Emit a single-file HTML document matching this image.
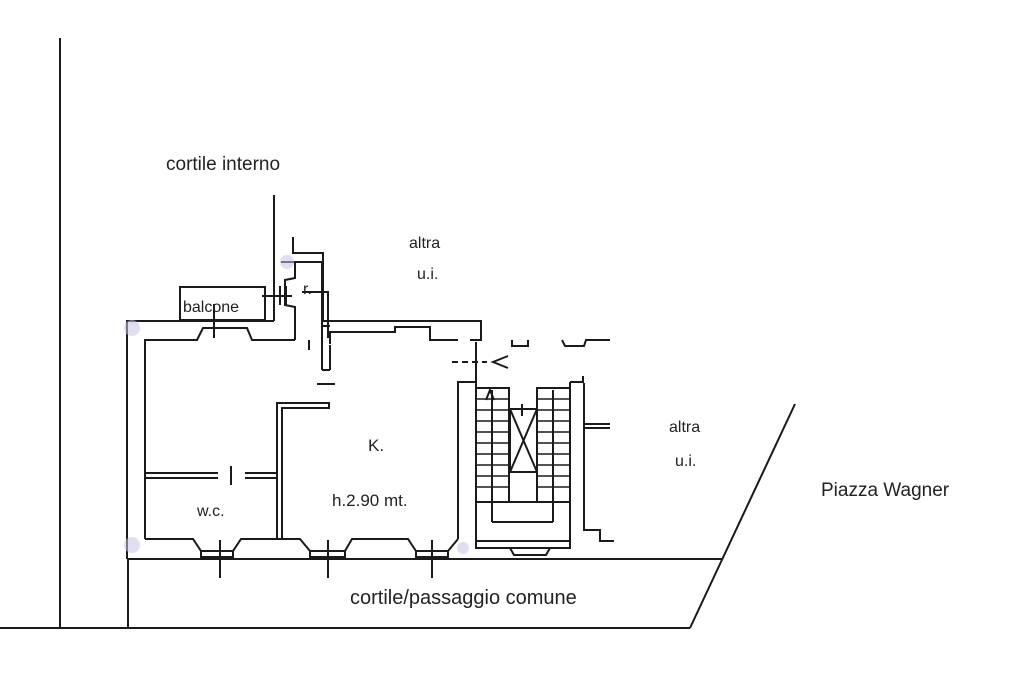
<!DOCTYPE html>
<html><head><style>
html,body{margin:0;padding:0;background:#fff;}
svg{display:block;}
text{font-family:"Liberation Sans",Arial,sans-serif;fill:#222;}
</style></head><body>
<svg width="1029" height="693" viewBox="0 0 1029 693" xmlns="http://www.w3.org/2000/svg">
<g stroke="#1a1a1a" stroke-width="2" fill="none">
<line x1="60" y1="38" x2="60" y2="628"/>
<line x1="0" y1="628" x2="690" y2="628"/>
<line x1="690" y1="628" x2="795" y2="404"/>
<line x1="128" y1="559" x2="722" y2="559"/>
<line x1="128" y1="559" x2="128" y2="628"/>
<line x1="274" y1="195" x2="274" y2="321"/>
<path d="M127,559 L127,321 L274,321"/>
<path d="M293,237 L293,253 L323,253 L323,321 L481,321 L481,340 L470,340"/>
<path d="M295,262 L322,262 L322,326 L330,326"/>
<path d="M281,262 L295,262 L295,278 L285,280 L285,305 L295,307 L295,340"/>
<path d="M302,292 L328,292 L328,338"/>
<path d="M145,539 L145,340 L197,340 L203,328 L247,328 L252,340 L295,340"/>
<path d="M330,339 L330,332 L395,332 L395,327 L430,327 L430,340 L458,340"/>
<path d="M330,339 L330,344"/>
<line x1="322" y1="300" x2="322" y2="370"/>
<line x1="330" y1="345" x2="330" y2="370"/>
<line x1="322" y1="370" x2="330" y2="370"/>
<line x1="317" y1="384" x2="335" y2="384"/>
<line x1="309" y1="340" x2="309" y2="350"/>
<rect x="180" y="287" width="85" height="33"/>
<line x1="214" y1="304" x2="214" y2="338"/>
<line x1="262" y1="296" x2="292" y2="296"/>
<line x1="286" y1="286" x2="286" y2="305"/>
<line x1="280" y1="286" x2="280" y2="305"/>
<path d="M145,473 L218,473 M245,473 L276,473"/>
<path d="M145,478 L218,478 M245,478 L277,478 L277,539"/>
<line x1="231" y1="466" x2="231" y2="485"/>
<path d="M282,539 L282,408 L329,408 L329,403 L277,403 L277,478"/>
<path d="M145,539 L193,539 L201,551 L233,551 L241,539 L300,539 L310,551 L345,551 L352,539 L408,539 L416,551 L448,551 L458,539"/>
<path d="M201,551 L201,557 L233,557 L233,551 M310,551 L310,557 L345,557 L345,551 M416,551 L416,557 L448,557 L448,551"/>
<line x1="220" y1="540" x2="220" y2="578"/>
<line x1="328" y1="540" x2="328" y2="578"/>
<line x1="432" y1="540" x2="432" y2="578"/>
<path d="M458,539 L458,382 L476,382 L476,548 L570,548 L570,382"/>
<path d="M476,342 L476,382"/>
<line x1="452" y1="362" x2="487" y2="362" stroke-dasharray="6,4"/>
<path d="M508,356 L493,362 L508,368"/>
<rect x="476" y="388" width="33" height="114"/>
<line x1="492" y1="390" x2="492" y2="522"/>
<rect x="537" y="388" width="33" height="114"/>
<line x1="553" y1="390" x2="553" y2="522"/>
<path d="M476,502 L476,541 L570,541 L570,502"/>
<path d="M492,522 L553,522"/>
<path d="M509,502 L537,502"/>
<g stroke-width="1.4">
<line x1="476" y1="399" x2="509" y2="399"/><line x1="476" y1="410" x2="509" y2="410"/><line x1="476" y1="421" x2="509" y2="421"/><line x1="476" y1="432" x2="509" y2="432"/><line x1="476" y1="443" x2="509" y2="443"/><line x1="476" y1="454" x2="509" y2="454"/><line x1="476" y1="465" x2="509" y2="465"/><line x1="476" y1="476" x2="509" y2="476"/><line x1="476" y1="487" x2="509" y2="487"/>
<line x1="537" y1="399" x2="570" y2="399"/><line x1="537" y1="410" x2="570" y2="410"/><line x1="537" y1="421" x2="570" y2="421"/><line x1="537" y1="432" x2="570" y2="432"/><line x1="537" y1="443" x2="570" y2="443"/><line x1="537" y1="454" x2="570" y2="454"/><line x1="537" y1="465" x2="570" y2="465"/><line x1="537" y1="476" x2="570" y2="476"/><line x1="537" y1="487" x2="570" y2="487"/>
</g>
<rect x="510" y="409" width="27" height="63"/>
<line x1="510" y1="409" x2="537" y2="472"/><line x1="537" y1="409" x2="510" y2="472"/>
<line x1="522" y1="404" x2="522" y2="416"/>
<path d="M486,400 L490,390 L494,400"/>
<path d="M510,548 L514,555 L546,555 L550,548"/>
<path d="M570,382 L583,382 L583,376"/>
<path d="M584,383 L584,530 L600,530 L600,541 L614,541"/>
<path d="M585,424 L610,424 M585,428 L610,428"/>
<path d="M512,340 L512,346 L528,346 L528,340"/>
<path d="M562,340 L565,346 L584,346 L586,340 L610,340"/>
</g>
<g fill="#c9c3e6" opacity="0.55">
<circle cx="132" cy="328" r="8"/><circle cx="132" cy="545" r="8"/><circle cx="463" cy="548" r="6"/><circle cx="287" cy="262" r="7"/>
</g>
<text x="166" y="170" font-size="19">cortile interno</text>
<text x="409" y="248" font-size="16">altra</text>
<text x="417" y="279" font-size="16">u.i.</text>
<text x="183" y="312" font-size="16">balcone</text>
<text x="303" y="294" font-size="16">r.</text>
<text x="368" y="451" font-size="17">K.</text>
<text x="332" y="506" font-size="17">h.2.90 mt.</text>
<text x="197" y="516" font-size="16">w.c.</text>
<text x="669" y="432" font-size="16">altra</text>
<text x="675" y="466" font-size="16">u.i.</text>
<text x="821" y="496" font-size="19">Piazza Wagner</text>
<text x="350" y="604" font-size="20">cortile/passaggio comune</text>
</svg>
</body></html>
